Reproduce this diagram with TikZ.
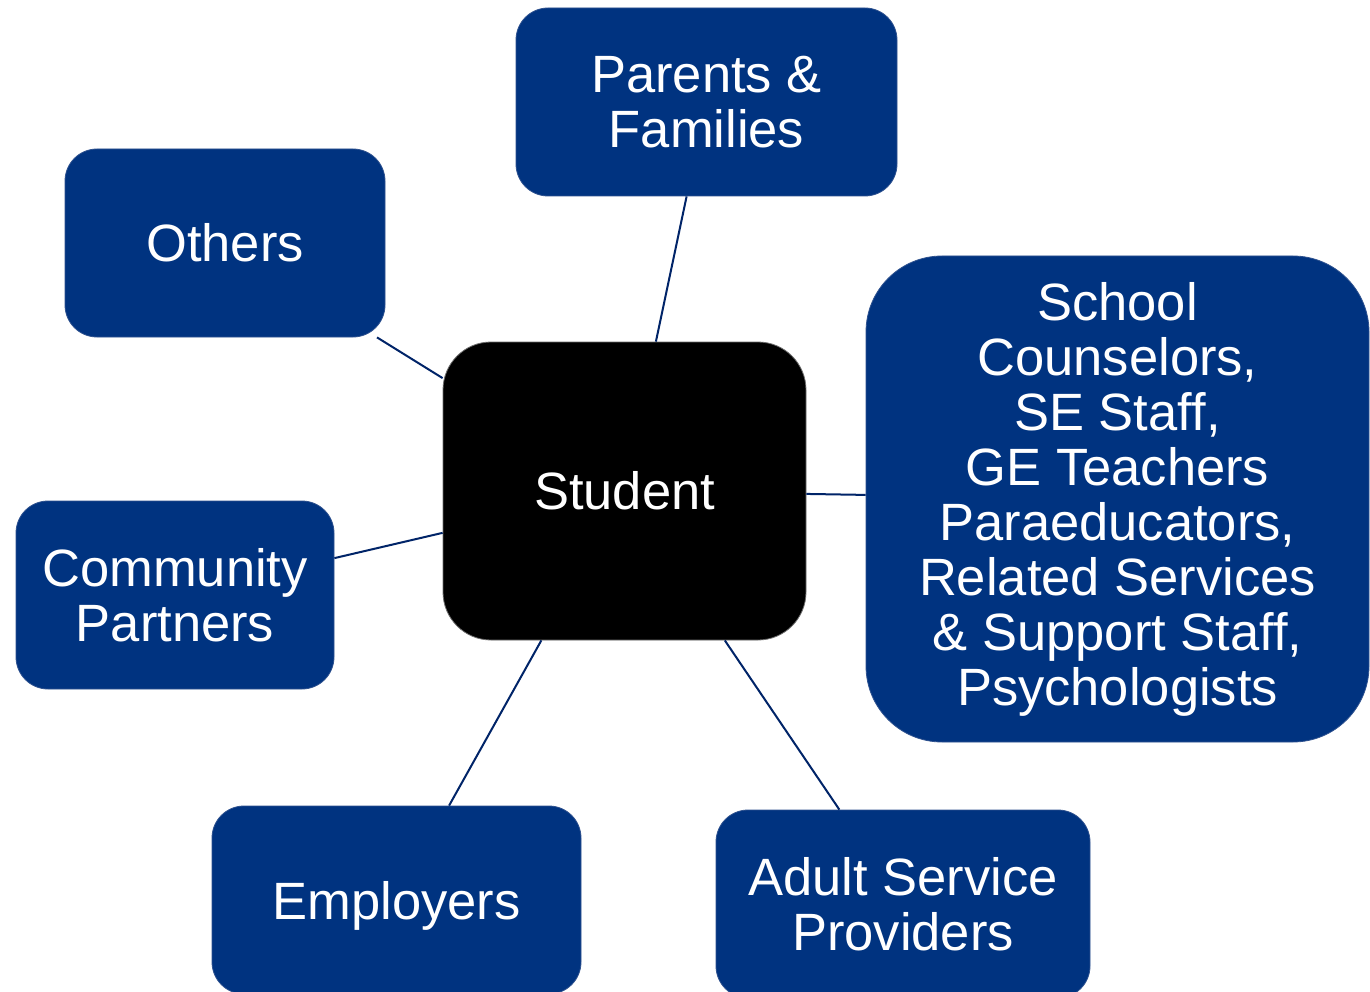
\documentclass[tikz,border=0pt]{standalone}
\usepackage{fontspec}
\setmainfont{Liberation Sans}
\definecolor{boxblue}{RGB}{0,51,128}
\definecolor{boxedge}{RGB}{47,82,143}
\definecolor{linkblue}{RGB}{0,36,104}
\definecolor{studentedge}{RGB}{110,110,110}
\tikzset{
  bluebox/.style={draw=boxedge, line width=0.8pt, fill=boxblue, text=white,
    rounded corners=32pt, inner sep=0pt, align=center,
    font=\fontsize{52.5pt}{55pt}\selectfont},
  studentbox/.style={bluebox, fill=black, draw=studentedge, rounded corners=48pt},
  link/.style={draw=linkblue, line width=2pt}
}
\begin{document}
\begin{tikzpicture}[x=1pt,y=-1pt]
\useasboundingbox (0,0) rectangle (1370,992);
\begin{scope}
\clip (0,0) rectangle (1370,992);
\fill[white] (0,0) rectangle (1370,992);
\node[studentbox, minimum width=363pt, minimum height=298pt] (student) at (624.5,491) {Student};
\node[bluebox, minimum width=381pt, minimum height=188pt] (parents) at (706.5,102) {Parents \&\\Families};
\node[bluebox, minimum width=320pt, minimum height=188pt] (others) at (225,243) {Others};
\node[bluebox, minimum width=503pt, minimum height=486pt, rounded corners=76pt] (school) at (1117.5,499) {School\\Counselors,\\SE Staff,\\GE Teachers\\Paraeducators,\\Related Services\\\& Support Staff,\\Psychologists};
\node[bluebox, minimum width=318pt, minimum height=188pt] (community) at (175,595) {Community\\Partners};
\node[bluebox, minimum width=369pt, minimum height=188pt, text depth=0pt] (employers) at (396.5,900) {Employers};
\node[bluebox, minimum width=374pt, minimum height=188pt] (adult) at (903,904) {Adult Service\\Providers};
\draw[link] (parents) -- (student);
\draw[link] (others) -- (student);
\draw[link] (community) -- (student);
\draw[link] (school) -- (student);
\draw[link] (employers) -- (student);
\draw[link] (adult) -- (student);
\end{scope}
\end{tikzpicture}
\end{document}
